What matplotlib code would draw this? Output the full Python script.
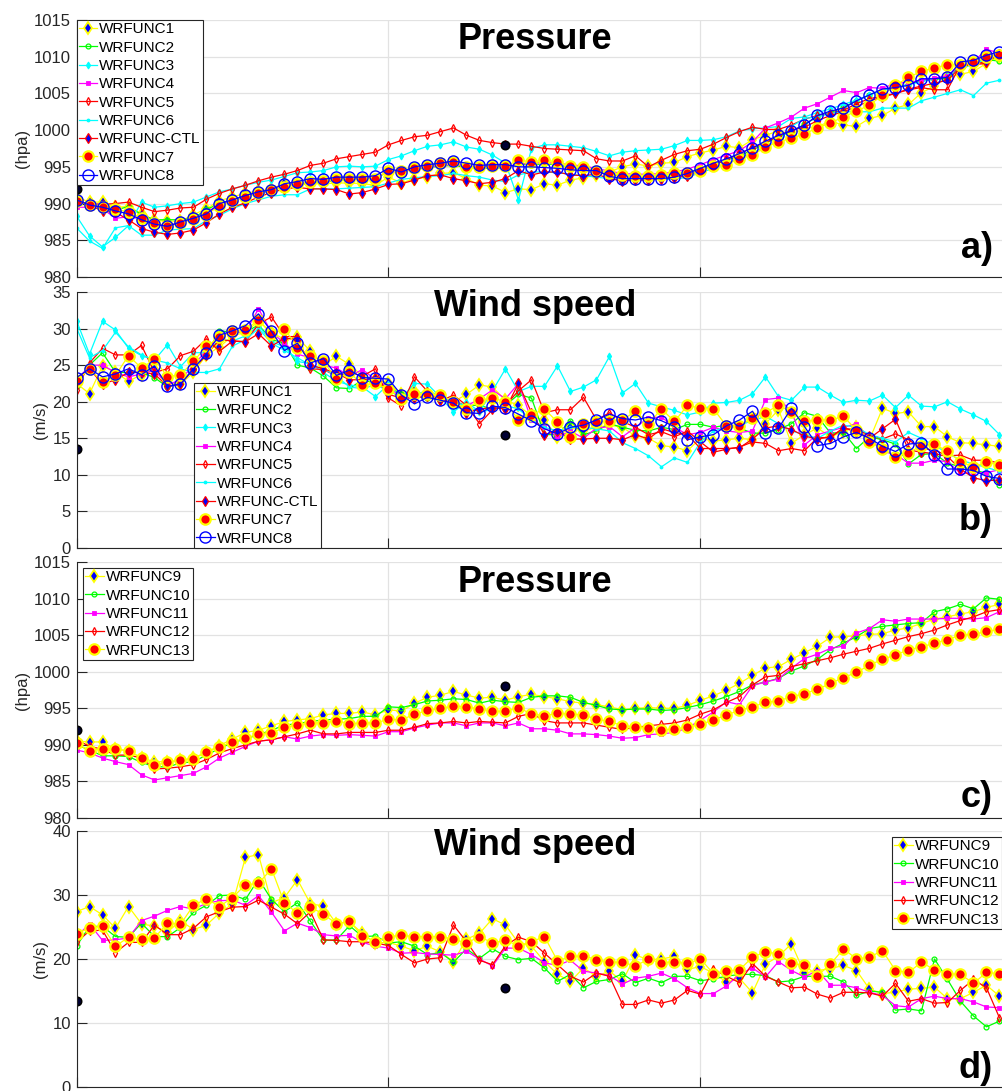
import matplotlib.pyplot as plt

plt.rcParams['font.family'] = ['Liberation Sans', 'DejaVu Sans']

# time steps along x
steps = list(range(72))
obs_x = [0, 33]
obs_p = [992.0, 998.0]
obs_w = [13.5, 15.5]

# ---------------- a) pressure, WRFUNC1-8 ----------------
p_wrf1 = [990.9, 990.2, 990.2, 989.5, 989.6, 988.6, 987.7, 987.6, 987.6, 988.5, 989.3, 990.4,
          990.9, 991.4, 991.7, 992.0, 992.8, 992.5, 992.7, 992.7, 992.8, 992.8, 992.7, 992.5,
          993.6, 992.8, 993.4, 993.6, 994.1, 994.2, 993.4, 992.5, 992.4, 991.5, 992.0, 991.9,
          992.7, 992.5, 993.2, 993.5, 993.9, 994.3, 995.0, 995.4, 995.1, 995.5, 995.6, 996.4,
          996.9, 997.3, 997.8, 997.6, 998.7, 999.3, 999.9, 999.5, 1000.2, 1000.5, 1001.2, 1000.7,
          1000.5, 1001.6, 1002.0, 1003.0, 1003.5, 1005.1, 1006.0, 1007.3, 1007.6, 1008.0, 1009.1, 1010.0]
p_wrf2 = [990.5, 989.8, 989.5, 989.1, 989.6, 988.5, 987.8, 987.8, 987.8, 988.0, 989.2, 990.0,
          990.5, 991.0, 991.4, 991.8, 992.3, 992.6, 992.8, 993.0, 993.1, 993.3, 993.4, 993.5,
          994.3, 994.4, 994.6, 994.9, 995.1, 995.2, 994.9, 994.8, 994.8, 994.9, 995.4, 995.3,
          995.4, 995.3, 994.9, 994.7, 994.4, 994.0, 993.7, 993.6, 993.6, 993.6, 993.8, 994.2,
          994.8, 995.3, 995.9, 996.5, 997.3, 998.2, 999.1, 999.8, 1000.8, 1001.8, 1002.4, 1003.1,
          1004.0, 1004.8, 1005.5, 1005.9, 1006.2, 1006.8, 1006.9, 1007.1, 1008.8, 1009.2, 1009.6, 1009.4]
p_wrf3 = [988.3, 985.6, 984.1, 985.4, 987.0, 990.2, 989.5, 989.7, 990.0, 990.2, 990.9, 991.6,
          992.0, 992.5, 992.9, 993.2, 993.7, 994.2, 994.3, 994.5, 995.0, 995.1, 995.0, 995.1,
          996.0, 996.5, 997.2, 997.8, 998.0, 998.4, 997.7, 997.4, 996.6, 995.5, 990.5, 997.5,
          998.0, 998.0, 997.8, 997.6, 997.1, 996.5, 997.0, 997.2, 997.3, 997.4, 997.9, 998.6,
          998.6, 998.7, 999.1, 999.9, 1000.2, 1000.3, 1000.5, 1001.6, 1001.8, 1002.4, 1002.9, 1003.5,
          1004.1, 1004.8, 1005.4, 1005.8, 1006.2, 1006.6, 1007.0, 1007.4, 1008.3, 1009.0, 1009.6, 1010.0]
p_wrf4 = [989.5, 989.5, 989.3, 988.0, 988.2, 987.9, 987.3, 987.0, 987.4, 987.9, 988.8, 989.9,
          990.4, 991.0, 991.4, 991.9, 992.4, 992.7, 993.0, 993.1, 993.3, 993.4, 993.5, 993.6,
          994.3, 994.4, 994.7, 995.0, 995.2, 995.3, 995.1, 995.0, 995.0, 995.0, 995.4, 995.5,
          995.6, 995.5, 995.3, 995.1, 994.8, 994.4, 994.1, 994.0, 994.0, 994.1, 994.3, 994.7,
          995.3, 996.0, 996.6, 997.2, 998.4, 1000.3, 1001.0, 1001.8, 1003.0, 1003.6, 1004.5, 1005.4,
          1005.1, 1005.8, 1005.7, 1006.4, 1006.5, 1006.8, 1007.1, 1007.4, 1008.8, 1009.3, 1011.0, 1010.5]
p_wrf5 = [990.3, 990.0, 989.9, 990.0, 990.2, 989.5, 988.9, 989.1, 989.4, 989.5, 990.6, 991.4,
          992.0, 992.5, 993.1, 993.6, 994.0, 994.5, 995.2, 995.5, 996.1, 996.4, 996.7, 997.0,
          998.0, 998.6, 999.1, 999.3, 999.8, 1000.3, 999.3, 998.6, 998.3, 998.1, 998.1, 997.8,
          997.5, 997.4, 997.3, 997.2, 996.1, 995.8, 995.8, 996.5, 995.0, 995.9, 996.7, 997.2,
          997.4, 998.1, 999.0, 999.8, 1000.4, 1000.1, 1000.1, 1000.7, 1001.5, 1002.0, 1002.3, 1002.7,
          1003.6, 1004.3, 1004.6, 1005.0, 1005.5, 1005.8, 1005.5, 1005.5, 1008.9, 1008.9, 1009.1, 1010.5]
p_wrf6 = [986.7, 984.9, 983.9, 986.7, 987.0, 985.7, 985.7, 986.4, 986.5, 986.6, 987.7, 988.4,
          989.3, 990.0, 990.5, 991.0, 991.2, 991.2, 992.0, 992.0, 992.0, 992.1, 992.2, 992.3,
          992.8, 993.3, 993.5, 993.7, 993.8, 994.1, 993.8, 993.6, 993.2, 993.0, 993.9, 994.3,
          994.3, 994.2, 994.0, 993.8, 993.6, 993.4, 993.3, 993.3, 993.3, 993.3, 993.3, 993.6,
          994.2, 994.8, 995.4, 996.2, 996.9, 997.8, 998.4, 1000.5, 1001.6, 1001.8, 1002.3, 1002.5,
          1002.5, 1002.5, 1003.0, 1003.0, 1003.0, 1004.0, 1004.5, 1005.0, 1005.5, 1004.7, 1006.4, 1006.8]
p_ctl = [990.3, 989.8, 989.0, 988.8, 987.8, 986.6, 986.1, 985.8, 986.0, 986.4, 987.4, 988.6,
         989.5, 990.1, 990.9, 991.5, 992.0, 992.2, 992.0, 992.0, 991.9, 991.3, 991.5, 992.0,
         992.6, 992.7, 993.2, 993.8, 993.9, 993.4, 993.1, 992.7, 992.9, 993.4, 994.5, 993.9,
         994.3, 994.3, 993.9, 993.8, 994.0, 993.4, 993.1, 993.2, 993.2, 993.4, 993.5, 993.8,
         994.5, 995.2, 996.0, 996.8, 997.6, 998.3, 999.2, 1000.0, 1000.4, 1001.3, 1002.0, 1002.5,
         1003.2, 1004.0, 1004.5, 1005.0, 1005.6, 1006.0, 1006.4, 1006.8, 1008.6, 1009.0, 1009.3, 1010.4]
p_wrf7 = [990.4, 989.8, 989.6, 989.2, 988.9, 988.0, 987.3, 987.0, 987.4, 987.9, 988.5, 989.7,
          990.3, 990.9, 991.4, 991.9, 992.3, 992.7, 993.0, 993.1, 993.4, 993.4, 993.4, 993.4,
          994.5, 994.5, 994.9, 995.1, 995.5, 995.6, 995.0, 995.0, 995.1, 995.1, 995.9, 995.7,
          995.9, 995.7, 995.1, 995.0, 994.5, 994.2, 993.9, 993.7, 993.7, 993.9, 994.1, 994.2,
          994.5, 995.1, 995.3, 996.1, 996.6, 997.7, 998.4, 998.9, 999.5, 1000.3, 1001.0, 1001.8,
          1002.6, 1003.4, 1004.8, 1006.1, 1007.2, 1008.0, 1008.5, 1008.9, 1008.9, 1009.3, 1010.0, 1010.2]
p_wrf8 = [990.5, 989.8, 989.5, 989.0, 988.6, 987.8, 987.2, 986.9, 987.5, 988.0, 988.6, 990.0,
          990.5, 991.1, 991.6, 991.9, 992.7, 993.0, 993.4, 993.3, 993.6, 993.6, 993.6, 993.8,
          994.8, 994.3, 995.0, 995.3, 995.5, 995.8, 995.5, 995.2, 995.3, 995.3, 995.0, 995.0,
          994.9, 994.8, 994.6, 994.5, 994.5, 993.7, 993.4, 993.4, 993.4, 993.4, 993.6, 994.1,
          994.8, 995.5, 996.1, 996.8, 997.6, 998.5, 999.3, 999.9, 1000.7, 1002.0, 1002.6, 1003.0,
          1004.0, 1004.8, 1005.6, 1005.8, 1006.1, 1007.0, 1007.0, 1007.2, 1009.3, 1009.5, 1010.2, 1010.7]

# ---------------- b) wind speed, WRFUNC1-8 ----------------
w_wrf1 = [22.5, 21.1, 24.9, 24.0, 22.8, 23.7, 24.5, 22.5, 22.4, 24.0, 26.4, 27.5,
          29.0, 29.5, 31.0, 29.5, 28.5, 28.8, 26.9, 25.0, 26.2, 25.1, 23.5, 23.0,
          22.5, 21.0, 21.4, 21.0, 20.5, 20.0, 21.0, 22.3, 22.0, 20.2, 19.5, 18.0,
          17.5, 15.2, 16.5, 16.0, 16.5, 16.8, 16.5, 15.3, 15.0, 14.0, 13.8, 13.3,
          15.0, 14.6, 14.8, 15.0, 14.8, 17.0, 18.9, 14.3, 15.5, 16.4, 15.2, 15.9,
          16.6, 14.8, 19.1, 18.4, 18.6, 16.6, 16.6, 15.2, 14.4, 14.3, 14.1, 13.9]
w_wrf2 = [22.2, 25.0, 26.7, 24.0, 24.0, 24.0, 23.3, 22.0, 22.5, 24.5, 26.5, 29.7,
          29.5, 29.5, 30.5, 28.5, 28.0, 25.0, 24.6, 23.5, 21.9, 21.8, 23.0, 22.5,
          22.0, 21.0, 20.8, 20.5, 20.3, 20.0, 19.5, 19.5, 19.0, 19.5, 21.0, 20.5,
          15.5, 15.5, 17.4, 15.5, 16.0, 17.0, 16.5, 16.1, 16.0, 16.5, 16.2, 16.9,
          16.9, 16.5, 16.8, 16.4, 15.7, 15.7, 16.2, 17.0, 18.5, 18.0, 15.7, 15.8,
          13.6, 15.2, 14.8, 14.2, 11.5, 12.8, 12.9, 11.6, 11.1, 10.7, 10.2, 8.6]
w_wrf3 = [31.1, 26.5, 31.0, 29.8, 27.3, 26.3, 25.7, 27.8, 24.8, 26.7, 26.7, 28.5,
          28.3, 29.0, 30.4, 28.2, 27.5, 25.5, 25.2, 24.0, 22.8, 22.3, 22.0, 20.7,
          22.4, 20.5, 22.5, 22.4, 20.6, 18.6, 20.0, 18.6, 21.5, 24.5, 21.4, 22.1,
          22.1, 24.9, 21.4, 22.0, 23.0, 26.2, 21.2, 22.5, 19.8, 19.3, 18.8, 18.2,
          18.6, 19.8, 19.9, 20.2, 21.1, 23.4, 20.7, 20.2, 22.0, 22.0, 20.9, 19.9,
          20.2, 20.1, 20.9, 19.2, 20.9, 19.4, 19.3, 20.0, 19.0, 18.2, 17.3, 15.5]
w_wrf4 = [22.8, 25.0, 25.0, 24.0, 23.4, 23.8, 24.3, 22.3, 23.0, 25.0, 27.0, 29.0,
          29.5, 29.5, 32.7, 29.5, 28.0, 26.5, 26.0, 25.0, 24.6, 23.5, 24.4, 23.0,
          22.0, 20.6, 20.5, 21.0, 20.5, 20.0, 19.4, 20.4, 21.6, 20.4, 22.5, 17.5,
          16.5, 15.2, 16.0, 15.0, 16.4, 16.6, 15.2, 16.5, 17.8, 17.9, 16.5, 15.5,
          15.8, 16.5, 16.0, 15.8, 16.0, 20.3, 20.5, 18.6, 14.1, 15.5, 16.0, 16.5,
          17.0, 15.0, 13.2, 12.8, 11.6, 11.6, 12.0, 11.8, 10.2, 10.3, 10.3, 10.7]
w_wrf5 = [21.6, 25.3, 27.3, 26.4, 26.4, 27.7, 24.0, 24.5, 26.3, 26.9, 28.6, 26.9,
          28.3, 28.2, 30.6, 31.6, 28.9, 28.9, 24.5, 24.4, 23.5, 24.0, 23.5, 24.5,
          20.5, 19.4, 23.4, 21.4, 20.1, 20.9, 19.5, 17.0, 18.9, 19.5, 21.5, 23.0,
          18.5, 18.9, 18.9, 20.6, 17.5, 18.5, 17.3, 16.5, 15.5, 15.9, 15.2, 16.0,
          14.5, 13.1, 13.5, 13.8, 14.5, 14.3, 13.3, 13.6, 13.3, 15.1, 15.1, 16.4,
          16.1, 15.5, 14.9, 15.6, 14.8, 13.6, 13.4, 12.6, 12.7, 12.0, 12.0, 11.6]
w_wrf6 = [30.1, 26.0, 27.0, 29.5, 27.5, 26.4, 25.7, 25.3, 24.5, 24.0, 24.0, 24.5,
          27.6, 28.5, 30.0, 28.0, 27.0, 26.0, 25.0, 24.5, 23.5, 22.0, 21.8, 22.3,
          21.5, 20.6, 21.0, 21.5, 20.8, 19.8, 19.5, 18.5, 19.0, 19.5, 19.0, 17.5,
          16.5, 16.0, 16.5, 16.5, 16.3, 16.0, 14.4, 13.6, 12.6, 11.1, 12.3, 11.7,
          14.5, 16.0, 16.5, 16.8, 17.4, 18.0, 17.0, 16.0, 15.5, 15.0, 16.0, 16.8,
          16.5, 15.5, 15.0, 14.5, 15.8, 15.0, 14.0, 13.0, 12.0, 11.5, 11.0, 10.5]
w_ctl = [23.0, 24.5, 22.4, 23.0, 24.0, 24.0, 23.8, 22.1, 22.4, 24.5, 26.4, 28.5,
         28.3, 28.2, 29.3, 27.6, 28.7, 28.5, 25.0, 24.5, 23.9, 23.0, 23.0, 23.2,
         21.0, 20.5, 20.5, 20.8, 20.2, 20.0, 18.5, 19.0, 19.2, 19.0, 22.5, 18.5,
         15.5, 16.0, 14.9, 14.9, 15.0, 15.0, 14.8, 15.5, 14.9, 16.3, 15.8, 15.5,
         13.6, 13.6, 13.6, 13.7, 14.9, 16.4, 16.7, 16.2, 15.3, 14.9, 15.2, 16.4,
         15.9, 15.0, 16.3, 17.6, 13.4, 13.1, 12.9, 12.5, 10.8, 9.6, 9.2, 9.3]
w_wrf7 = [22.8, 24.5, 22.7, 23.6, 26.3, 24.6, 25.8, 23.4, 23.7, 25.5, 27.6, 28.8,
          29.6, 29.8, 31.2, 29.2, 30.0, 27.4, 26.2, 25.5, 23.1, 24.0, 22.3, 22.5,
          21.7, 20.4, 21.1, 21.0, 20.9, 20.0, 19.0, 20.2, 20.5, 20.0, 17.5, 18.2,
          19.0, 17.2, 15.2, 17.0, 17.2, 17.4, 17.5, 18.7, 17.0, 19.0, 17.3, 19.5,
          19.1, 19.0, 16.7, 16.7, 17.8, 18.5, 19.5, 18.6, 17.3, 17.5, 17.5, 18.0,
          16.1, 14.5, 13.6, 12.5, 13.0, 14.0, 14.2, 13.2, 11.8, 11.1, 11.7, 11.4]
w_wrf8 = [23.3, 24.5, 23.4, 23.8, 24.5, 23.7, 24.9, 22.1, 22.4, 24.5, 26.6, 29.1,
          29.7, 30.4, 32.0, 29.6, 27.0, 28.0, 25.3, 25.9, 23.6, 24.3, 23.3, 23.2,
          23.1, 20.9, 19.7, 20.6, 20.2, 19.8, 18.5, 18.4, 19.4, 19.2, 18.3, 17.4,
          16.3, 15.6, 16.5, 16.8, 17.5, 18.3, 17.7, 17.5, 17.9, 17.4, 16.6, 14.8,
          15.2, 15.5, 16.7, 17.5, 18.7, 15.7, 16.4, 19.1, 16.6, 14.0, 14.3, 15.2,
          15.8, 15.0, 13.9, 13.2, 14.2, 14.4, 12.7, 10.8, 10.8, 10.6, 9.8, 9.5]

# ---------------- c) pressure, WRFUNC9-13 ----------------
p_wrf9 = [990.5, 990.4, 990.4, 989.4, 989.2, 988.2, 987.7, 987.7, 987.9, 988.2, 989.0, 989.9,
          990.8, 991.7, 992.0, 992.6, 993.2, 993.4, 993.6, 994.1, 994.3, 994.3, 994.5, 994.1,
          994.8, 994.6, 995.7, 996.5, 996.8, 997.3, 996.8, 996.4, 996.5, 996.1, 996.6, 996.9,
          996.6, 996.3, 995.9, 995.7, 995.5, 995.2, 994.8, 995.0, 995.1, 995.0, 995.0, 995.4,
          996.1, 996.7, 997.5, 998.4, 999.5, 1000.5, 1000.7, 1001.7, 1002.6, 1003.5, 1004.7, 1004.8,
          1004.9, 1005.1, 1005.2, 1005.7, 1006.0, 1006.6, 1007.2, 1007.5, 1007.9, 1008.2, 1008.8, 1009.2]
p_wrf10 = [990.0, 989.3, 988.5, 988.5, 988.4, 987.6, 987.0, 987.0, 987.5, 987.7, 988.6, 989.5,
           990.3, 990.8, 991.4, 992.0, 992.7, 992.9, 993.2, 993.4, 993.5, 993.6, 993.9, 993.9,
           995.2, 995.1, 995.5, 996.0, 996.1, 996.3, 996.2, 995.7, 996.1, 995.9, 995.8, 996.5,
           996.7, 996.7, 996.5, 995.8, 995.4, 994.9, 994.8, 994.9, 994.9, 994.7, 994.8, 995.1,
           995.5, 996.0, 996.6, 997.3, 998.2, 998.6, 999.1, 1000.1, 1000.8, 1001.7, 1003.0, 1003.9,
           1004.8, 1005.9, 1006.2, 1006.4, 1006.6, 1006.7, 1008.2, 1008.6, 1009.2, 1008.6, 1010.1, 1009.9]
p_wrf11 = [989.3, 988.9, 988.2, 987.7, 987.3, 985.9, 985.2, 985.5, 985.8, 986.1, 987.0, 988.2,
           989.0, 989.8, 990.5, 990.7, 991.1, 990.8, 991.2, 991.4, 991.3, 991.4, 991.3, 991.2,
           991.8, 991.8, 992.3, 992.7, 993.0, 993.0, 992.6, 993.0, 993.0, 992.6, 993.0, 992.2,
           992.2, 992.0, 991.5, 991.5, 991.4, 991.2, 990.9, 991.0, 991.4, 991.5, 991.7, 992.3,
           993.4, 994.5, 995.9, 995.5, 998.1, 998.6, 999.0, 1000.5, 1001.8, 1002.4, 1003.2, 1003.5,
           1005.3, 1005.9, 1007.1, 1006.9, 1007.2, 1007.2, 1007.2, 1007.3, 1007.3, 1007.2, 1007.4, 1008.2]
p_wrf12 = [990.7, 989.8, 989.4, 988.6, 988.6, 988.2, 986.7, 986.8, 987.0, 987.3, 988.0, 988.9,
           989.5, 990.0, 990.5, 990.7, 991.1, 991.5, 992.0, 991.5, 991.5, 991.7, 991.7, 991.7,
           992.0, 992.0, 992.4, 992.9, 993.0, 993.2, 993.0, 993.2, 993.1, 993.0, 993.9, 994.3,
           993.3, 993.0, 993.0, 993.0, 992.7, 992.4, 992.1, 992.4, 992.6, 992.8, 993.0, 993.4,
           994.2, 994.8, 995.8, 996.6, 998.2, 999.3, 999.5, 1000.7, 1001.1, 1001.5, 1001.9, 1002.4,
           1002.8, 1003.2, 1003.8, 1004.3, 1004.8, 1005.2, 1005.7, 1006.4, 1007.0, 1007.5, 1008.2, 1008.5]
p_wrf13 = [990.2, 989.2, 989.5, 989.4, 989.2, 988.2, 987.2, 987.6, 987.9, 988.1, 989.0, 989.7,
           990.4, 990.9, 991.5, 991.6, 992.4, 992.7, 993.0, 993.0, 993.3, 992.9, 993.0, 993.0,
           993.5, 993.4, 994.2, 994.7, 995.0, 995.3, 995.2, 994.9, 994.6, 994.6, 995.1, 994.2,
           994.0, 994.3, 994.2, 994.1, 993.5, 993.2, 992.6, 992.5, 992.3, 992.0, 992.2, 992.4,
           992.8, 993.4, 994.1, 994.7, 995.2, 995.8, 996.0, 996.6, 997.0, 997.6, 998.4, 999.2,
           999.9, 1000.9, 1001.7, 1002.3, 1003.0, 1003.4, 1003.9, 1004.4, 1005.0, 1005.1, 1005.5, 1005.8]

# ---------------- d) wind speed, WRFUNC9-13 ----------------
w_wrf9 = [27.4, 28.2, 26.9, 24.8, 28.2, 25.5, 25.1, 24.2, 26.0, 24.6, 25.3, 27.2,
          28.6, 35.9, 36.3, 28.8, 29.6, 32.4, 28.6, 28.3, 25.5, 25.8, 24.0, 22.5,
          22.6, 22.0, 21.3, 22.0, 21.1, 19.6, 23.1, 24.0, 26.3, 25.3, 22.5, 22.0,
          19.6, 17.6, 16.5, 18.6, 17.3, 18.1, 16.5, 20.6, 19.9, 20.0, 20.4, 18.4,
          18.8, 17.8, 16.4, 17.0, 14.7, 19.2, 20.4, 22.4, 17.8, 18.2, 18.5, 19.0,
          18.2, 15.3, 14.6, 14.8, 15.3, 15.4, 15.6, 13.8, 13.8, 14.8, 15.9, 14.2]
w_wrf10 = [22.0, 25.1, 25.1, 23.5, 23.4, 25.6, 23.5, 23.5, 24.9, 27.3, 28.4, 29.9,
           30.0, 29.3, 32.5, 29.3, 27.4, 28.8, 25.9, 22.9, 23.0, 25.2, 23.5, 23.6,
           22.5, 22.7, 22.0, 20.7, 21.0, 19.5, 21.6, 20.1, 21.6, 20.4, 19.9, 20.1,
           18.6, 16.5, 17.6, 15.5, 16.5, 16.8, 17.7, 16.3, 17.0, 16.3, 17.3, 17.3,
           16.6, 16.9, 17.3, 17.6, 17.6, 17.4, 16.4, 16.6, 17.3, 17.3, 17.3, 16.4,
           14.3, 15.0, 14.8, 12.0, 12.2, 11.9, 20.0, 16.8, 13.4, 11.1, 9.4, 10.3]
w_wrf11 = [23.5, 25.5, 22.9, 23.0, 23.3, 26.0, 26.7, 27.6, 28.2, 27.8, 28.7, 29.1,
           29.2, 28.4, 29.9, 27.3, 24.4, 25.6, 24.9, 23.8, 23.6, 23.7, 22.6, 22.0,
           21.7, 20.9, 21.0, 20.8, 20.7, 20.6, 21.2, 20.0, 18.9, 21.7, 21.7, 20.7,
           19.4, 19.0, 19.8, 18.1, 17.8, 17.4, 16.1, 17.0, 17.3, 17.8, 16.9, 15.5,
           14.6, 14.6, 15.8, 17.6, 18.6, 17.2, 19.6, 18.2, 17.2, 18.2, 15.9, 15.9,
           15.5, 14.8, 14.3, 12.7, 12.5, 13.8, 14.2, 13.8, 13.8, 13.3, 12.5, 12.4]
w_wrf12 = [22.6, 24.4, 24.5, 21.0, 22.6, 22.6, 25.3, 23.8, 23.8, 24.8, 26.6, 27.4,
           28.1, 28.2, 29.2, 28.1, 27.0, 25.5, 27.4, 23.0, 22.9, 22.7, 22.7, 22.5,
           22.1, 20.7, 19.4, 20.0, 20.2, 25.3, 22.7, 19.8, 19.1, 22.1, 23.4, 22.7,
           20.9, 19.1, 17.3, 16.4, 17.8, 17.3, 12.9, 12.9, 13.6, 13.1, 13.6, 15.1,
           14.5, 18.4, 17.3, 16.3, 19.3, 17.3, 16.4, 15.5, 15.6, 14.5, 13.9, 14.8,
           14.8, 14.7, 14.2, 16.2, 13.4, 13.8, 13.1, 13.2, 15.1, 16.8, 15.5, 10.8]
w_wrf13 = [23.9, 24.9, 25.1, 22.0, 23.4, 23.1, 23.3, 25.6, 25.4, 28.4, 29.4, 28.2,
           29.6, 31.6, 31.8, 34.1, 28.7, 27.2, 28.1, 27.0, 25.5, 25.9, 23.6, 22.7,
           23.5, 23.7, 23.5, 23.5, 23.5, 23.1, 22.5, 23.5, 22.5, 22.9, 22.1, 22.7,
           23.5, 19.7, 20.4, 20.5, 19.9, 19.5, 19.5, 18.9, 20.0, 19.4, 19.6, 19.3,
           20.0, 17.7, 18.1, 18.3, 20.3, 21.1, 20.8, 19.3, 19.0, 17.4, 19.2, 21.6,
           20.0, 20.3, 21.3, 18.2, 17.9, 19.5, 18.3, 17.7, 17.6, 16.2, 17.9, 17.7]

names_top = ['WRFUNC1', 'WRFUNC2', 'WRFUNC3', 'WRFUNC4', 'WRFUNC5', 'WRFUNC6',
             'WRFUNC-CTL', 'WRFUNC7', 'WRFUNC8']
names_bot = ['WRFUNC9', 'WRFUNC10', 'WRFUNC11', 'WRFUNC12', 'WRFUNC13']

pres_top = [p_wrf1, p_wrf2, p_wrf3, p_wrf4, p_wrf5, p_wrf6, p_ctl, p_wrf7, p_wrf8]
wind_top = [w_wrf1, w_wrf2, w_wrf3, w_wrf4, w_wrf5, w_wrf6, w_ctl, w_wrf7, w_wrf8]
pres_bot = [p_wrf9, p_wrf10, p_wrf11, p_wrf12, p_wrf13]
wind_bot = [w_wrf9, w_wrf10, w_wrf11, w_wrf12, w_wrf13]

YEL, GRN, CYN, MAG, RED, BLU = '#ffff00', '#00ff00', '#00ffff', '#ff00ff', '#ff0000', '#0000ff'
diamond_blue = dict(color=YEL, marker='d', mfc=BLU, mec=YEL, ms=6.5, mew=1.3)
small_green = dict(color=GRN, marker='o', mfc='none', mec=GRN, ms=3.5, mew=0.9)
small_mag = dict(color=MAG, marker='s', mfc=MAG, mec=MAG, ms=2.2, mew=0.6)
small_red = dict(color=RED, marker='d', mfc='none', mec=RED, ms=4, mew=0.9)
red_dot = dict(color=YEL, marker='o', mfc=RED, mec=YEL, ms=7.5, mew=1.6)
styles = {
    'WRFUNC1': diamond_blue,
    'WRFUNC2': small_green,
    'WRFUNC3': dict(color=CYN, marker='d', mfc=CYN, mec=CYN, ms=3.5, mew=0.8),
    'WRFUNC4': small_mag,
    'WRFUNC5': small_red,
    'WRFUNC6': dict(color=CYN, marker='.', mfc=CYN, mec=CYN, ms=3.5),
    'WRFUNC-CTL': dict(color=RED, marker='d', mfc=BLU, mec=RED, ms=5, mew=0.9),
    'WRFUNC7': red_dot,
    'WRFUNC8': dict(color=BLU, marker='o', mfc='none', mec=BLU, ms=8, mew=1.0),
    'WRFUNC9': diamond_blue,
    'WRFUNC10': small_green,
    'WRFUNC11': small_mag,
    'WRFUNC12': small_red,
    'WRFUNC13': red_dot,
}

W, H = 1003, 1091
fig = plt.figure(figsize=(W / 100, H / 100), dpi=100)

def fpos(x, y):
    return x / W, 1 - y / H

# axes boxes in pixels: (top, bottom)
boxes = [(20, 277), (292, 548), (562, 818), (831, 1087)]
x0, xw = 76.5, 936

panels = [
    (names_top, pres_top, obs_p, (980, 1015), range(980, 1016, 5), '(hpa)'),
    (names_top, wind_top, obs_w, (0, 35), range(0, 36, 5), '(m/s)'),
    (names_bot, pres_bot, obs_p, (980, 1015), range(980, 1016, 5), '(hpa)'),
    (names_bot, wind_bot, obs_w, (0, 40), range(0, 41, 10), '(m/s)'),
]
legend_anchor = [
    ('upper left', (0.0, 1.0)),
    ('lower left', ((194 - x0) / xw, 0.0)),
    ('upper left', ((83 - x0) / xw, 1 - 6 / 256)),
    ('upper left', ((892 - x0) / xw, 1 - 6 / 256)),
]
titles = [('Pressure', 49), ('Wind speed', 316), ('Pressure', 592), ('Wind speed', 855)]
tags = [('a)', 258), ('b)', 530), ('c)', 807), ('d)', 1078)]

for k, (names, series, obs, ylim, yt, ylab) in enumerate(panels):
    top, bot = boxes[k]
    ax = fig.add_axes([x0 / W, 1 - bot / H, xw / W, (bot - top) / H])
    for name, vals in zip(names, series):
        ax.plot(steps, vals, lw=0.9, label=name, **styles[name])
    ax.plot(obs_x, obs, ls='none', marker='o', ms=6, mfc='#000033', mec='k', mew=1.2)
    ax.set_xlim(0, 72)
    ax.set_ylim(*ylim)
    ax.set_yticks(list(yt))
    ax.set_xticks([0, 24, 48, 72])
    ax.tick_params(axis='x', labelbottom=False)
    ax.tick_params(direction='in', length=7, width=0.8, labelsize=12, pad=4,
                   color='#262626', labelcolor='#262626')
    ax.grid(True, color='#e2e2e2', lw=0.9)
    ax.set_axisbelow(True)
    for s in ['top', 'right']:
        ax.spines[s].set_visible(False)
    for s in ['left', 'bottom']:
        ax.spines[s].set_color('#262626')
        ax.spines[s].set_linewidth(0.8)
    ax.set_ylabel(ylab, fontsize=12, labelpad=3, color='#262626')
    loc, anchor = legend_anchor[k]
    leg = ax.legend(loc=loc, bbox_to_anchor=anchor, borderaxespad=0, fontsize=11,
                    fancybox=False, framealpha=1, edgecolor='#262626',
                    handlelength=1.2, handletextpad=0.15, labelspacing=0.285, borderpad=0.15)
    leg.get_frame().set_linewidth(0.8)

    tx, ty = fpos(535, titles[k][1])
    fig.text(tx, ty, titles[k][0], ha='center', va='baseline', fontsize=26, fontweight='bold')
    lx, ly = fpos(993, tags[k][1])
    fig.text(lx, ly, tags[k][0], ha='right', va='baseline', fontsize=26, fontweight='bold')

fig.savefig('out.png', dpi=100)
